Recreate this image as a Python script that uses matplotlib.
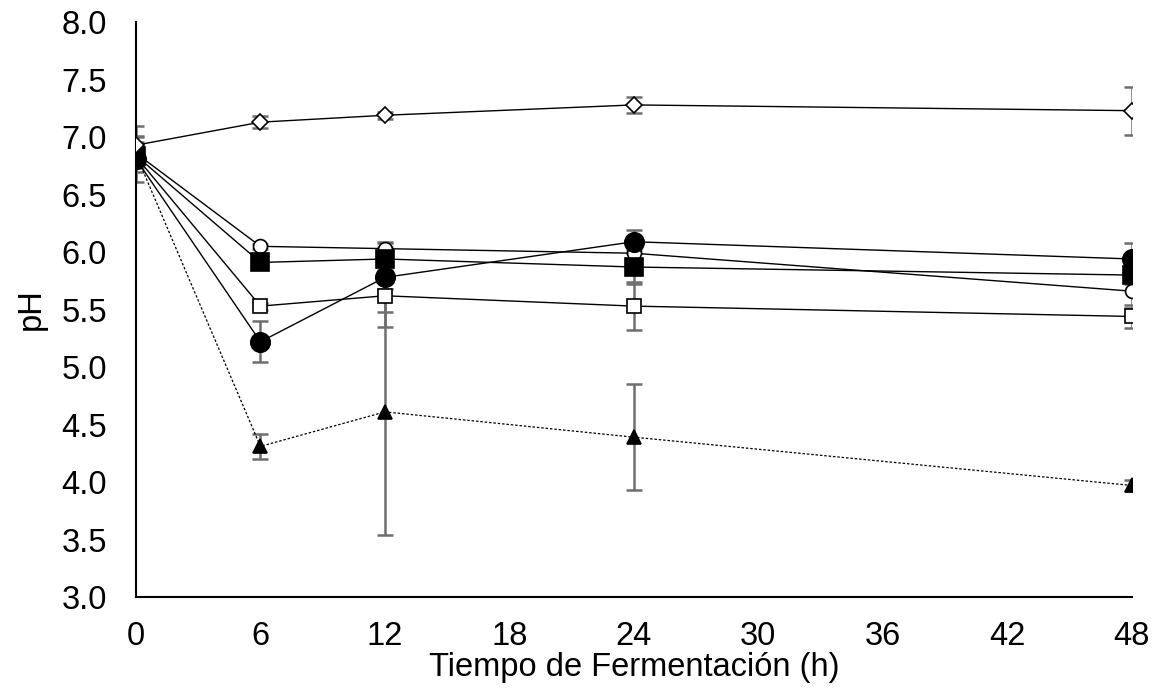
import numpy as np
import matplotlib.pyplot as plt

plt.rcParams['font.family'] = ['Liberation Sans', 'DejaVu Sans']

horas = [0, 6, 12, 24, 48]

# pH por tratamiento (media, desviacion)
ph_diamante = [6.93, 7.13, 7.19, 7.28, 7.23]
sd_diamante = [0.17, 0.05, 0.03, 0.07, 0.21]

ph_circ_abierto = [6.86, 6.05, 6.03, 5.99, 5.66]
sd_circ_abierto = [0.10, 0.02, 0.06, 0.10, 0.15]

ph_cuad_lleno = [6.84, 5.91, 5.94, 5.87, 5.80]
sd_cuad_lleno = [0.08, 0.03, 0.10, 0.15, 0.08]

ph_cuad_abierto = [6.83, 5.53, 5.62, 5.53, 5.44]
sd_cuad_abierto = [0.10, 0.03, 0.27, 0.21, 0.10]

ph_circ_lleno = [6.81, 5.22, 5.78, 6.09, 5.94]
sd_circ_lleno = [0.20, 0.18, 0.30, 0.10, 0.14]

ph_triangulo = [6.85, 4.31, 4.61, 4.39, 3.97]
sd_triangulo = [0.15, 0.11, 1.07, 0.46, 0.05]

fig = plt.figure(figsize=(11.58, 6.92), dpi=100)
ax = fig.add_axes([0.1174, 0.1373, 0.86, 0.8307])

series = [
    (ph_triangulo, sd_triangulo, '^', 'black', 10, '--'),
    (ph_cuad_abierto, sd_cuad_abierto, 's', 'white', 9.5, '-'),
    (ph_circ_abierto, sd_circ_abierto, 'o', 'white', 10, '-'),
    (ph_cuad_lleno, sd_cuad_lleno, 's', 'black', 13, '-'),
    (ph_circ_lleno, sd_circ_lleno, 'o', 'black', 14, '-'),
    (ph_diamante, sd_diamante, 'D', 'white', 8, '-'),
]

for y, sd, m, fc, ms, ls in series:
    ax.errorbar(horas, y, yerr=sd, fmt='none', ecolor='#6e6e6e', elinewidth=1.8,
                capsize=6, capthick=1.8, zorder=1)
    lw = 1.0 if ls == '-' else 0.9
    ax.plot(horas, y, color='black', linewidth=lw, linestyle=(0, (2, 1.5)) if ls == '--' else '-',
            marker=m, markerfacecolor=fc, markeredgecolor='black', markersize=ms,
            markeredgewidth=1.2, zorder=3)

ax.set_xlim(0, 48)
ax.set_ylim(3.0, 8.0)
ax.set_xticks(np.arange(0, 49, 6))
ax.set_yticks(np.arange(3.0, 8.01, 0.5))
ax.set_yticklabels([f'{v:.1f}' for v in np.arange(3.0, 8.01, 0.5)])
ax.tick_params(length=0, labelsize=23.5)
ax.tick_params(axis='x', pad=17)
ax.tick_params(axis='y', pad=21)

for s in ['top', 'right']:
    ax.spines[s].set_visible(False)
for s in ['left', 'bottom']:
    ax.spines[s].set_linewidth(1.5)

ax.set_xlabel('Tiempo de Fermentación (h)', fontsize=23.5, labelpad=0)
ax.set_ylabel('pH', fontsize=23.5, labelpad=10)

fig.savefig('out.png', dpi=100)
